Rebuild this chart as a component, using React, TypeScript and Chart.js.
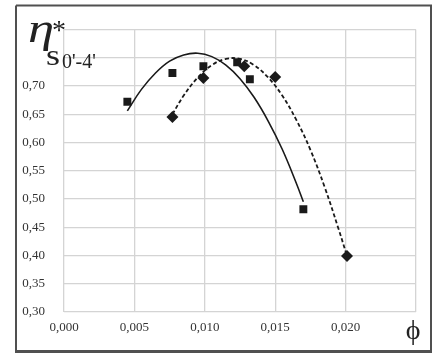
import React, { useEffect, useRef } from 'react';
import { Chart, registerables } from 'chart.js';

Chart.register(...registerables);

// Measured points (squares)
const squaresX = [0.0045, 0.0077, 0.0099, 0.0123, 0.0132, 0.0170];
const squaresY = [0.672, 0.723, 0.735, 0.742, 0.712, 0.482];

// Measured points (diamonds)
const diamondsX = [0.0077, 0.0099, 0.0128, 0.0150, 0.0201];
const diamondsY = [0.645, 0.714, 0.735, 0.716, 0.399];

// Solid trend curve
const solidTrendX = [0.0045, 0.0055, 0.0065, 0.0075, 0.0085, 0.0095, 0.0105, 0.0115, 0.0125, 0.0135, 0.0145, 0.0155, 0.0165, 0.0170];
const solidTrendY = [0.656, 0.694, 0.723, 0.744, 0.755, 0.758, 0.752, 0.737, 0.713, 0.680, 0.638, 0.588, 0.528, 0.495];

// Dashed trend curve
const dashedTrendX = [0.0077, 0.0085, 0.0095, 0.0105, 0.0115, 0.0125, 0.0135, 0.0145, 0.0155, 0.0165, 0.0175, 0.0185, 0.0195, 0.0201];
const dashedTrendY = [0.650, 0.683, 0.715, 0.737, 0.748, 0.748, 0.737, 0.715, 0.683, 0.640, 0.587, 0.522, 0.447, 0.399];

// Axis tick labels
const xTickValues = [0, 0.005, 0.01, 0.015, 0.02];
const xTickLabels = ['0,000', '0,005', '0,010', '0,015', '0,020'];
const yTickValues = [0.3, 0.35, 0.4, 0.45, 0.5, 0.55, 0.6, 0.65, 0.7];
const yTickLabels = ['0,30', '0,35', '0,40', '0,45', '0,50', '0,55', '0,60', '0,65', '0,70'];

const X_MIN = 0;
const X_MAX = 0.025;
const Y_MIN = 0.3;
const Y_MAX = 0.8;

const pts = (xs: number[], ys: number[]) => xs.map((x, i) => ({ x, y: ys[i] }));

const lookup = (vals: number[], labels: string[], v: number) => {
  for (let i = 0; i < vals.length; i++) {
    if (Math.abs(vals[i] - v) < 1e-6) return labels[i];
  }
  return '';
};

const decorPlugin = {
  id: 'decor',
  afterDraw(chart: any) {
    const ctx = chart.ctx as CanvasRenderingContext2D;
    ctx.save();
    // frame
    ctx.strokeStyle = '#505050';
    ctx.lineWidth = 2;
    ctx.beginPath();
    ctx.moveTo(16, 5.5);
    ctx.lineTo(431, 5.5);
    ctx.lineTo(431, 351);
    ctx.moveTo(16, 5.5);
    ctx.lineTo(16, 351);
    ctx.stroke();
    ctx.lineWidth = 3;
    ctx.beginPath();
    ctx.moveTo(15, 351.5);
    ctx.lineTo(432, 351.5);
    ctx.stroke();
    ctx.fillStyle = '#222';
    ctx.textBaseline = 'alphabetic';
    ctx.textAlign = 'left';
    // eta (horizontally widened)
    ctx.save();
    ctx.translate(28, 42);
    ctx.scale(1.35, 1);
    ctx.font = 'italic 39px "Liberation Serif"';
    ctx.fillText('η', 0, 0);
    ctx.restore();
    ctx.font = '28px "Liberation Serif"';
    ctx.fillText('*', 52, 39);
    ctx.save();
    ctx.translate(46, 65);
    ctx.scale(1.2, 1);
    ctx.font = '30px "Liberation Serif"';
    ctx.fillText('s', 0, 0);
    ctx.restore();
    ctx.font = '20px "Liberation Serif"';
    ctx.fillText("0'-4'", 62, 68);
    // phi
    ctx.font = '28px "Liberation Serif"';
    ctx.textAlign = 'center';
    ctx.fillText('ϕ', 413, 339);
    ctx.restore();
  },
};

export default function App() {
  const ref = useRef<HTMLCanvasElement | null>(null);
  useEffect(() => {
    if (!ref.current) return;
    const chart = new Chart(ref.current, {
      type: 'scatter',
      data: {
        datasets: [
          {
            label: 'squares',
            data: pts(squaresX, squaresY),
            pointStyle: 'rect',
            pointRadius: 5.6,
            backgroundColor: '#1a1a1a',
            borderColor: '#1a1a1a',
            borderWidth: 0,
            showLine: false,
            order: 1,
          },
          {
            label: 'diamonds',
            data: pts(diamondsX, diamondsY),
            pointStyle: 'rectRot',
            pointRadius: 6,
            backgroundColor: '#1a1a1a',
            borderColor: '#1a1a1a',
            borderWidth: 0,
            showLine: false,
            order: 1,
          },
          {
            label: 'solid trend',
            data: pts(solidTrendX, solidTrendY),
            showLine: true,
            pointRadius: 0,
            borderColor: '#1a1a1a',
            borderWidth: 1.6,
            tension: 0.4,
            fill: false,
            order: 2,
          },
          {
            label: 'dashed trend',
            data: pts(dashedTrendX, dashedTrendY),
            showLine: true,
            pointRadius: 0,
            borderColor: '#1a1a1a',
            borderWidth: 1.8,
            borderDash: [4, 2.5],
            tension: 0.4,
            fill: false,
            order: 2,
          },
        ],
      },
      options: {
        animation: false,
        responsive: false,
        maintainAspectRatio: false,
        devicePixelRatio: 1,
        layout: { padding: { left: 0, right: 20, top: 29.5, bottom: 0 } },
        plugins: {
          legend: { display: false },
          tooltip: { enabled: false },
        },
        scales: {
          x: {
            type: 'linear',
            min: X_MIN,
            max: X_MAX,
            afterBuildTicks: (s: any) => {
              s.ticks = [0, 0.005, 0.01, 0.015, 0.02, 0.025].map((v) => ({ value: v }));
            },
            afterFit: (s: any) => {
              s.height = 42;
            },
            border: { display: false },
            grid: { color: '#d4d4d4', lineWidth: 1.3, drawTicks: false },
            ticks: {
              padding: 8,
              maxRotation: 0,
              autoSkip: false,
              color: '#333',
              font: { family: '"Liberation Serif"', size: 13 },
              callback: (v: any) => lookup(xTickValues, xTickLabels, Number(v)),
            },
          },
          y: {
            type: 'linear',
            min: Y_MIN,
            max: Y_MAX,
            afterBuildTicks: (s: any) => {
              s.ticks = [0.3, 0.35, 0.4, 0.45, 0.5, 0.55, 0.6, 0.65, 0.7, 0.75, 0.8].map((v) => ({ value: v }));
            },
            afterFit: (s: any) => {
              s.width = 64;
            },
            border: { display: false },
            grid: { color: '#d4d4d4', lineWidth: 1.3, drawTicks: false },
            ticks: {
              padding: 19,
              autoSkip: false,
              color: '#333',
              font: { family: '"Liberation Serif"', size: 13 },
              callback: (v: any) => lookup(yTickValues, yTickLabels, Number(v)),
            },
          },
        },
      },
      plugins: [decorPlugin],
    });
    return () => chart.destroy();
  }, []);
  return (
    <div style={{ position: 'fixed', left: 0, top: 0, width: 436, height: 354, background: '#fff' }}>
      <canvas ref={ref} width={436} height={354} style={{ width: 436, height: 354, display: 'block' }} />
    </div>
  );
}
